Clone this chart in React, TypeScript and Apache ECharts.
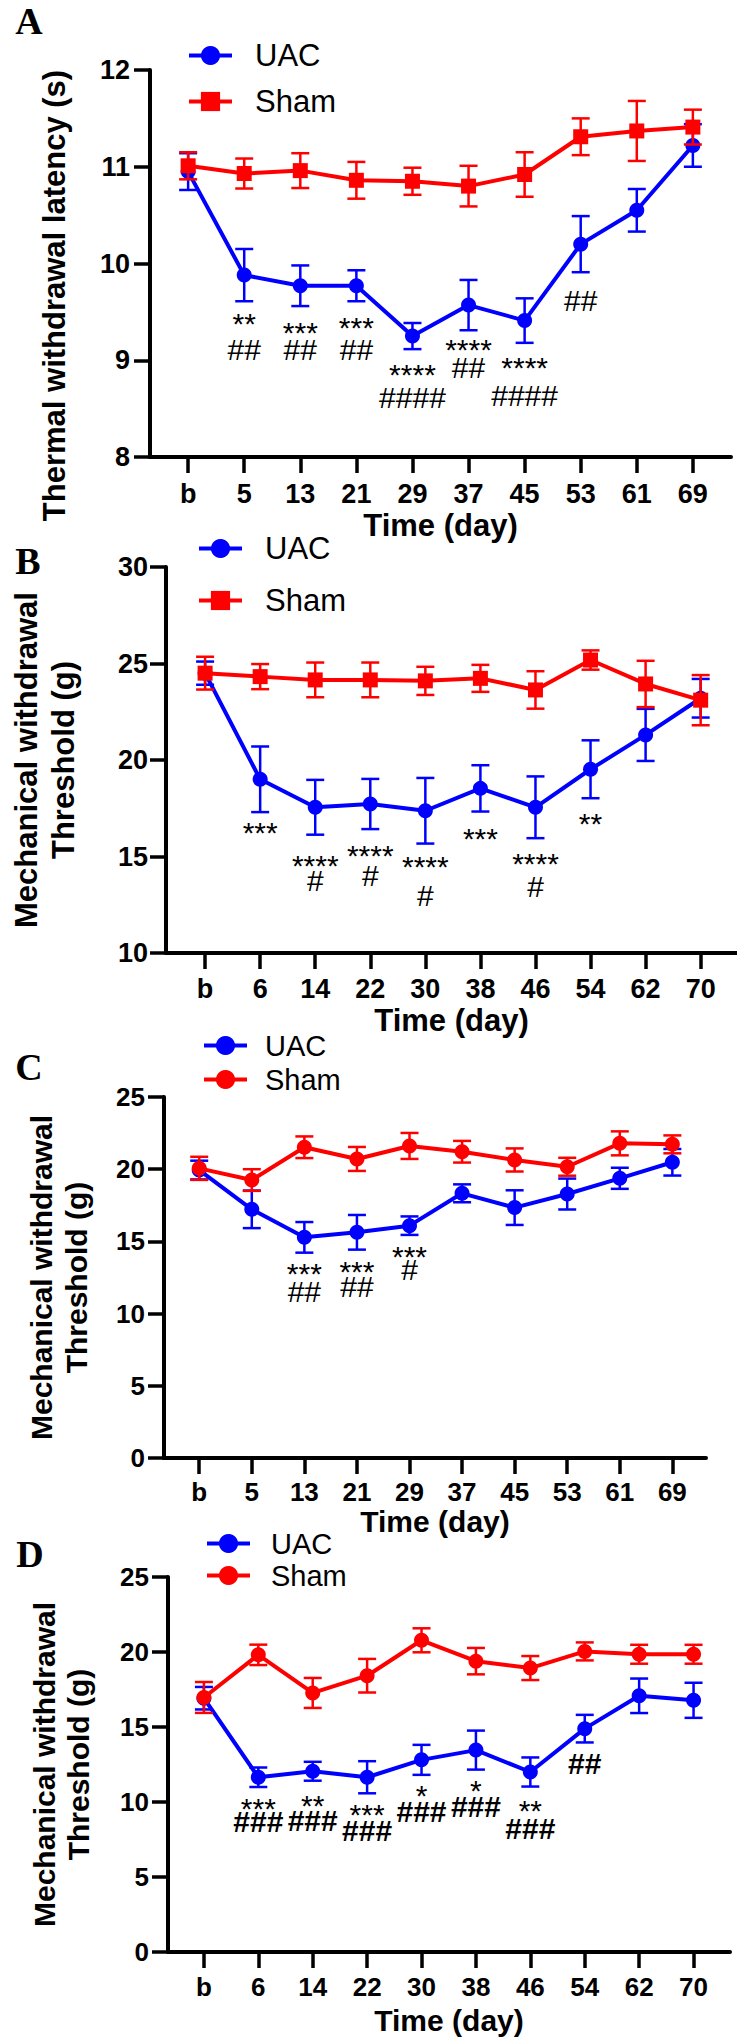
import React, { useEffect, useRef } from 'react';
import * as echarts from 'echarts';

const FONT = "'Liberation Sans', Arial, Helvetica, sans-serif";
const SERIF = "'Liberation Serif', 'Times New Roman', serif";
const BLUE = '#0000FF';
const RED = '#FF0000';

// ---- categories (days) ----
const daysA = ['b', '5', '13', '21', '29', '37', '45', '53', '61', '69'];
const daysB = ['b', '6', '14', '22', '30', '38', '46', '54', '62', '70'];
const daysC = ['b', '5', '13', '21', '29', '37', '45', '53', '61', '69'];
const daysD = ['b', '6', '14', '22', '30', '38', '46', '54', '62', '70'];

// ---- Panel A: thermal withdrawal latency (s) ----
const uacA = [10.95, 9.88, 9.77, 9.77, 9.25, 9.57, 9.41, 10.2, 10.55, 11.22];
const uacAErr = [0.19, 0.27, 0.21, 0.16, 0.135, 0.26, 0.23, 0.29, 0.22, 0.22];
const shamA = [11.01, 10.93, 10.96, 10.86, 10.85, 10.8, 10.92, 11.31, 11.37, 11.41];
const shamAErr = [0.14, 0.155, 0.18, 0.19, 0.14, 0.21, 0.23, 0.19, 0.31, 0.18];

// ---- Panel B: mechanical withdrawal threshold (g) ----
const uacB = [24.5, 19.0, 17.55, 17.72, 17.37, 18.53, 17.55, 19.52, 21.3, 23.2];
const uacBErr = [0.6, 1.7, 1.42, 1.3, 1.7, 1.2, 1.6, 1.5, 1.35, 1.0];
const shamB = [24.5, 24.32, 24.15, 24.15, 24.1, 24.23, 23.63, 25.18, 23.94, 23.1];
const shamBErr = [0.85, 0.65, 0.9, 0.9, 0.73, 0.7, 0.97, 0.5, 1.2, 1.3];

// ---- Panel C ----
const uacC = [19.94, 17.22, 15.28, 15.63, 16.09, 18.33, 17.34, 18.28, 19.37, 20.48];
const uacCErr = [0.65, 1.3, 1.06, 1.2, 0.64, 0.62, 1.2, 1.07, 0.73, 0.92];
const shamC = [20.06, 19.25, 21.52, 20.71, 21.61, 21.21, 20.64, 20.17, 21.79, 21.72];
const shamCErr = [0.8, 0.75, 0.75, 0.83, 0.9, 0.75, 0.8, 0.62, 0.83, 0.62];

// ---- Panel D ----
const uacD = [16.92, 11.65, 12.05, 11.65, 12.81, 13.46, 12.0, 14.89, 17.08, 16.78];
const uacDErr = [0.75, 0.65, 0.63, 1.07, 1.0, 1.3, 0.97, 0.92, 1.15, 1.17];
const shamD = [16.97, 19.81, 17.27, 18.42, 20.78, 19.39, 18.93, 20.04, 19.85, 19.85];
const shamDErr = [1.03, 0.68, 1.0, 1.12, 0.8, 0.88, 0.8, 0.6, 0.63, 0.63];

// ---- significance marks: [category index, text, y value where the mark sits] ----
type Note = [number, string, number];
const starsA: Note[] = [[1, '**', 9.45], [2, '***', 9.36], [3, '***', 9.41], [4, '****', 8.92], [5, '****', 9.18], [6, '****', 9.0]];
const hashA: Note[] = [[1, '##', 9.11], [2, '##', 9.11], [3, '##', 9.11], [4, '####', 8.62], [5, '##', 8.93], [6, '####', 8.64], [7, '##', 9.62]];
const starsB: Note[] = [[1, '***', 16.63], [2, '****', 14.9], [3, '****', 15.42], [4, '****', 14.82], [5, '***', 16.29], [6, '****', 14.99], [7, '**', 17.06]];
const hashB: Note[] = [[2, '#', 13.78], [3, '#', 14.04], [4, '#', 13.0], [6, '#', 13.44]];
const starsC: Note[] = [[2, '***', 13.25], [3, '***', 13.37], [4, '***', 14.45]];
const hashC: Note[] = [[2, '##', 11.52], [3, '##', 11.91], [4, '#', 13.02]];
const starsD: Note[] = [[1, '***', 10.02], [2, '**', 10.24], [3, '***', 9.65], [4, '*', 10.91], [5, '*', 11.25], [6, '**', 9.91]];
const hashD: Note[] = [[1, '###', 8.69], [2, '###', 8.8], [3, '###', 8.13], [4, '###', 9.35], [5, '###', 9.69], [6, '###', 8.25], [7, '##', 12.58]];

const yNameA = 'Thermal withdrawal latency (s)';
const yNameMech = 'Mechanical withdrawal\nThreshold (g)';
const xName = 'Time (day)';

const panels = [
  {
    key: 'A', letter: 'A', letterX: 29, letterY: 21,
    cats: daysA, uac: uacA, uacErr: uacAErr, sham: shamA, shamErr: shamAErr, shamSymbol: 'rect',
    stars: starsA, hashes: hashA, hashBold: false,
    grid: { left: 150, top: 70, width: 581, height: 387 },
    xMin: -0.68, xMax: 9.68, yMin: 8, yMax: 12, yStep: 1,
    yName: yNameA, yNameGap: 80, yNameLH: 31, yNamePad: [0, 64, 0, 0], titleFont: 31,
    tickFont: 27, xLabelMargin: 23, yLabelMargin: 20, xNameGap: 53,
    legend: { left: 187, top: 40, gap: 15, font: 31, pad: 18 },
  },
  {
    key: 'B', letter: 'B', letterX: 28, letterY: 561,
    cats: daysB, uac: uacB, uacErr: uacBErr, sham: shamB, shamErr: shamBErr, shamSymbol: 'rect',
    stars: starsB, hashes: hashB, hashBold: false,
    grid: { left: 155, top: 567, width: 582, height: 386 },
    xMin: -0.71, xMax: 9.66, yMin: 10, yMax: 30, yStep: 5,
    yName: yNameMech, yNameGap: 84, yNameLH: 37, yNamePad: [0, 0, 0, 0], titleFont: 31,
    tickFont: 27, xLabelMargin: 22, yLabelMargin: 18, xNameGap: 52,
    legend: { left: 197, top: 533, gap: 21, font: 31, pad: 18 },
  },
  {
    key: 'C', letter: 'C', letterX: 29, letterY: 1067,
    cats: daysC, uac: uacC, uacErr: uacCErr, sham: shamC, shamErr: shamCErr, shamSymbol: 'circle',
    stars: starsC, hashes: hashC, hashBold: false,
    grid: { left: 164, top: 1097, width: 542, height: 361 },
    xMin: -0.67, xMax: 9.64, yMin: 0, yMax: 25, yStep: 5,
    yName: yNameMech, yNameGap: 70, yNameLH: 35, yNamePad: [0, 0, 0, 0], titleFont: 30,
    tickFont: 26, xLabelMargin: 21, yLabelMargin: 19, xNameGap: 48,
    legend: { left: 202, top: 1031, gap: 5, font: 29, pad: 13 },
  },
  {
    key: 'D', letter: 'D', letterX: 30, letterY: 1554,
    cats: daysD, uac: uacD, uacErr: uacDErr, sham: shamD, shamErr: shamDErr, shamSymbol: 'circle',
    stars: starsD, hashes: hashD, hashBold: true,
    grid: { left: 168, top: 1577, width: 562, height: 375 },
    xMin: -0.66, xMax: 9.67, yMin: 0, yMax: 25, yStep: 5,
    yName: yNameMech, yNameGap: 73, yNameLH: 34, yNamePad: [0, 0, 0, 0], titleFont: 30,
    tickFont: 26, xLabelMargin: 22, yLabelMargin: 19, xNameGap: 53,
    legend: { left: 205, top: 1529, gap: 3, font: 29, pad: 16 },
  },
];

function errSeries(color: string, mean: number[], err: number[], k: number, z: number) {
  return {
    type: 'custom',
    xAxisIndex: k,
    yAxisIndex: k,
    silent: true,
    z,
    data: mean.map((m, i) => [i, m - err[i], m + err[i]]),
    encode: { x: 0, y: [1, 2] },
    renderItem: (params: any, api: any) => {
      const x = api.value(0);
      const top = api.coord([x, api.value(2)]);
      const bot = api.coord([x, api.value(1)]);
      const hw = 9;
      const st = { stroke: color, lineWidth: 2.5, fill: 'none' };
      return {
        type: 'group',
        children: [
          { type: 'line', shape: { x1: top[0], y1: top[1], x2: bot[0], y2: bot[1] }, style: st },
          { type: 'line', shape: { x1: top[0] - hw, y1: top[1], x2: top[0] + hw, y2: top[1] }, style: st },
          { type: 'line', shape: { x1: bot[0] - hw, y1: bot[1], x2: bot[0] + hw, y2: bot[1] }, style: st },
        ],
      };
    },
  };
}

function noteSeries(notes: Note[], k: number, dy: number, bold: boolean) {
  return {
    type: 'custom',
    xAxisIndex: k,
    yAxisIndex: k,
    silent: true,
    z: 10,
    data: notes.map((n) => [n[0], n[2]]),
    renderItem: (params: any, api: any) => {
      const n = notes[params.dataIndex];
      const pt = api.coord([api.value(0), api.value(1)]);
      return {
        type: 'text',
        x: pt[0],
        y: pt[1] + dy,
        style: {
          text: n[1],
          fontSize: 30,
          fontFamily: FONT,
          fontWeight: bold ? 'bold' : 'normal',
          fill: '#000',
          align: 'center',
          verticalAlign: 'middle',
        },
      };
    },
  };
}

function buildOption() {
  const grid: any[] = [];
  const xAxis: any[] = [];
  const yAxis: any[] = [];
  const series: any[] = [];
  const legend: any[] = [];
  const graphic: any[] = [];

  panels.forEach((p, k) => {
    const idx = p.cats.map((_, i) => i);
    grid.push({ ...p.grid, containLabel: false });
    xAxis.push({
      type: 'value',
      gridIndex: k,
      min: p.xMin,
      max: p.xMax,
      name: xName,
      nameLocation: 'middle',
      nameGap: p.xNameGap,
      nameTextStyle: { fontSize: p.titleFont, fontWeight: 'bold', color: '#000', fontFamily: FONT },
      axisLine: { show: true, onZero: false, lineStyle: { color: '#000', width: 4 } },
      axisTick: { show: true, customValues: idx, length: 16, lineStyle: { color: '#000', width: 3.5 } },
      axisLabel: {
        show: true,
        customValues: idx,
        formatter: (v: number) => p.cats[Math.round(v)] ?? '',
        margin: p.xLabelMargin,
        fontSize: p.tickFont,
        fontWeight: 'bold',
        color: '#000',
        fontFamily: FONT,
      },
      splitLine: { show: false },
    });
    yAxis.push({
      type: 'value',
      gridIndex: k,
      min: p.yMin,
      max: p.yMax,
      interval: p.yStep,
      name: p.yName,
      nameLocation: 'middle',
      nameGap: p.yNameGap,
      nameTextStyle: {
        fontSize: p.titleFont,
        fontWeight: 'bold',
        color: '#000',
        fontFamily: FONT,
        lineHeight: p.yNameLH,
        align: 'center',
        padding: p.yNamePad,
      },
      axisLine: { show: true, onZero: false, lineStyle: { color: '#000', width: 4 } },
      axisTick: { show: true, length: 16, lineStyle: { color: '#000', width: 3.5 } },
      axisLabel: {
        show: true,
        margin: p.yLabelMargin,
        fontSize: p.tickFont,
        fontWeight: 'bold',
        color: '#000',
        fontFamily: FONT,
      },
      splitLine: { show: false },
    });

    const uacName = `UAC#${p.key}`;
    const shamName = `Sham#${p.key}`;
    series.push(errSeries(BLUE, p.uac, p.uacErr, k, 2));
    series.push({
      type: 'line',
      name: uacName,
      xAxisIndex: k,
      yAxisIndex: k,
      z: 3,
      data: p.uac.map((v, i) => [i, v]),
      symbol: 'circle',
      symbolSize: 15,
      lineStyle: { color: BLUE, width: 4 },
      itemStyle: { color: BLUE },
      emphasis: { disabled: true },
    });
    series.push(errSeries(RED, p.sham, p.shamErr, k, 4));
    series.push({
      type: 'line',
      name: shamName,
      xAxisIndex: k,
      yAxisIndex: k,
      z: 5,
      data: p.sham.map((v, i) => [i, v]),
      symbol: p.shamSymbol,
      symbolSize: 15,
      lineStyle: { color: RED, width: 4 },
      itemStyle: { color: RED },
      emphasis: { disabled: true },
    });
    series.push(noteSeries(p.stars, k, 7, false));
    series.push(noteSeries(p.hashes, k, 0, p.hashBold));

    legend.push({
      left: p.legend.left,
      top: p.legend.top,
      orient: 'vertical',
      padding: 0,
      itemGap: p.legend.gap,
      itemWidth: 43,
      itemHeight: 24,
      selectedMode: false,
      data: [uacName, shamName],
      formatter: (n: string) => n.split('#')[0],
      lineStyle: { width: 4 },
      textStyle: {
        fontSize: p.legend.font,
        color: '#000',
        fontFamily: FONT,
        padding: [0, 0, 0, p.legend.pad],
      },
    });

    graphic.push({
      type: 'text',
      x: p.letterX,
      y: p.letterY,
      style: {
        text: p.letter,
        fontSize: 38,
        fontWeight: 'bold',
        fontFamily: SERIF,
        fill: '#000',
        align: 'center',
        verticalAlign: 'middle',
      },
    });
  });

  return {
    animation: false,
    backgroundColor: '#ffffff',
    textStyle: { fontFamily: FONT },
    grid,
    xAxis,
    yAxis,
    series,
    legend,
    graphic,
  };
}

export default function App() {
  const ref = useRef<HTMLDivElement>(null);
  useEffect(() => {
    document.body.style.margin = '0';
    const chart = echarts.init(ref.current!, null, { renderer: 'svg' });
    chart.setOption(buildOption() as any);
    return () => {
      chart.dispose();
    };
  }, []);
  return (
    <div
      ref={ref}
      style={{ position: 'absolute', left: 0, top: 0, width: 737, height: 2040, background: '#fff' }}
    />
  );
}
